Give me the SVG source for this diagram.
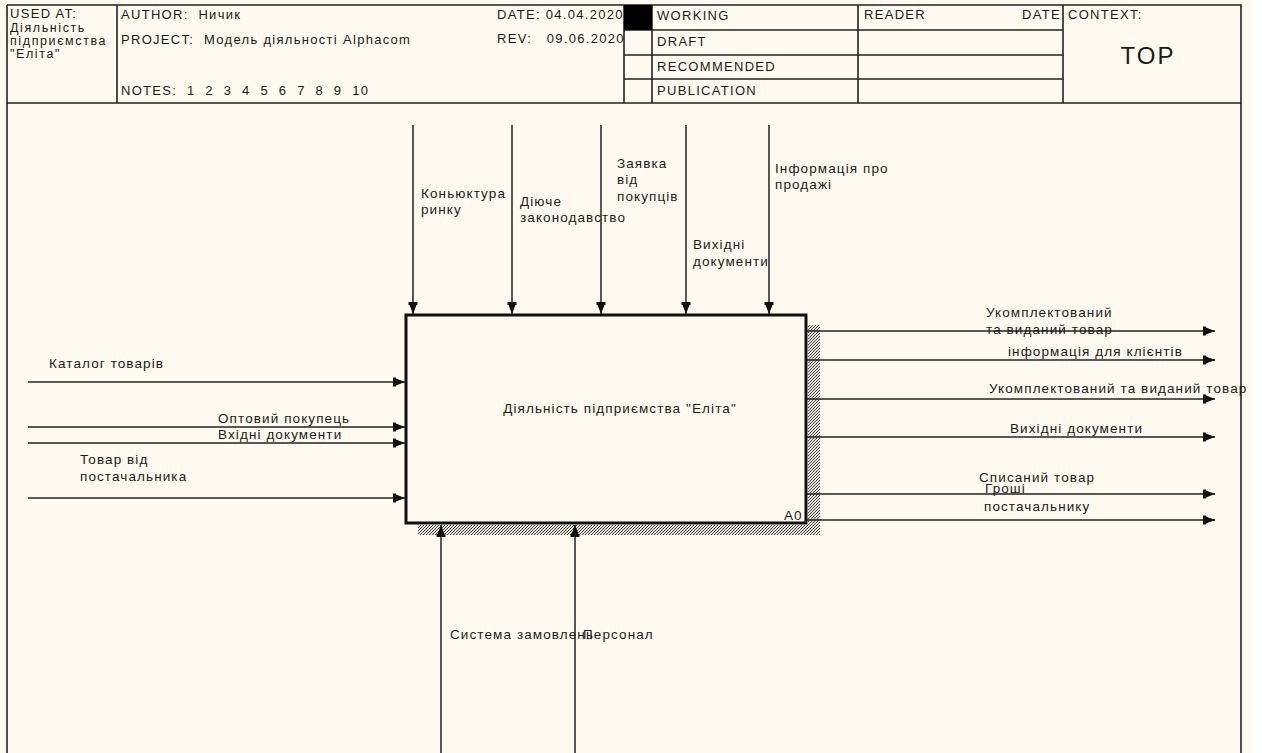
<svg xmlns="http://www.w3.org/2000/svg" width="1262" height="753" viewBox="0 0 1262 753">
<style>
text{font-family:"Liberation Sans",Arial,sans-serif;font-size:13.5px;fill:#1a1a1a;letter-spacing:1.1px;white-space:pre}
.h{font-size:13px;letter-spacing:1.3px}
.s{font-size:12.5px;letter-spacing:1.6px}
.fr{fill:none;stroke:#222;stroke-width:1.6}
.c{fill:none;stroke:#222;stroke-width:1.5}
</style>
<defs>
<marker id="ar" viewBox="0 0 12 10" refX="12" refY="5" markerWidth="12" markerHeight="10" markerUnits="userSpaceOnUse" orient="auto">
<path d="M0,0.5 H3 V1.5 L12,5 L3,8.5 V9.5 H0 Z" fill="#111"/>
</marker>
<pattern id="hatch" width="3" height="3" patternUnits="userSpaceOnUse">
<rect width="3" height="3" fill="#e8e4dc"/>
<rect x="0" y="0" width="1" height="1" fill="#333"/>
<rect x="2" y="1" width="1" height="1" fill="#555"/>
<rect x="1" y="2" width="1" height="1" fill="#444"/>
</pattern>
</defs>
<rect width="1262" height="753" fill="#ffffff"/>
<rect x="0" y="0" width="1252" height="753" fill="#fffaf0"/>

<g id="frame">
<path class="fr" d="M7,5 H1241 V753 M7,5 V753 M7,103 H1241 M117,5 V103 M624,5 V103 M652,5 V103 M858,5 V103 M1063,5 V103 M624,30 H1063 M624,55 H1063 M624,79 H1063"/>
<rect x="624" y="5" width="28" height="25" fill="#000"/>
<text class="h" x="10" y="18">USED AT:</text>
<text class="s" x="10" y="32">Діяльність</text>
<text class="s" x="10" y="45">підприємства</text>
<text class="s" x="10" y="58">"Еліта"</text>
<text class="h" x="121" y="19">AUTHOR:  Ничик</text>
<text class="h" x="121" y="44">PROJECT:  Модель діяльності Alphacom</text>
<text class="h" x="121" y="95">NOTES:  1  2  3  4  5  6  7  8  9  10</text>
<text class="h" x="497" y="19">DATE: 04.04.2020</text>
<text class="h" x="497" y="43">REV:   09.06.2020</text>
<text class="h" x="657" y="20">WORKING</text>
<text class="h" x="657" y="46">DRAFT</text>
<text class="h" x="657" y="71">RECOMMENDED</text>
<text class="h" x="657" y="95">PUBLICATION</text>
<text class="h" x="864" y="19">READER</text>
<text class="h" x="1061" y="19" text-anchor="end">DATE</text>
<text class="h" x="1068" y="19">CONTEXT:</text>
<text x="1148" y="64" text-anchor="middle" style="font-size:24px;letter-spacing:2px">TOP</text>
</g>

<g id="A0">
<rect x="808" y="325" width="12" height="210" fill="url(#hatch)"/>
<rect x="418" y="525" width="402" height="10" fill="url(#hatch)"/>
<rect x="406" y="315" width="400" height="208" fill="#fffaf0" stroke="#111" stroke-width="3"/>
<text x="620" y="413" text-anchor="middle">Діяльність підприємства "Еліта"</text>
<text x="784" y="520">A0</text>
</g>

<g id="connectors">
<path class="c" marker-end="url(#ar)" d="M413,125 V314"/>
<path class="c" marker-end="url(#ar)" d="M512,125 V314"/>
<path class="c" marker-end="url(#ar)" d="M601,125 V314"/>
<path class="c" marker-end="url(#ar)" d="M686,125 V314"/>
<path class="c" marker-end="url(#ar)" d="M769,125 V314"/>
<path class="c" marker-end="url(#ar)" d="M28,382 H405"/>
<path class="c" marker-end="url(#ar)" d="M28,427 H405"/>
<path class="c" marker-end="url(#ar)" d="M28,443 H405"/>
<path class="c" marker-end="url(#ar)" d="M28,498 H405"/>
<path class="c" marker-end="url(#ar)" d="M807,331 H1215"/>
<path class="c" marker-end="url(#ar)" d="M807,360 H1215"/>
<path class="c" marker-end="url(#ar)" d="M807,399 H1215"/>
<path class="c" marker-end="url(#ar)" d="M807,437 H1215"/>
<path class="c" marker-end="url(#ar)" d="M807,494 H1215"/>
<path class="c" marker-end="url(#ar)" d="M807,520 H1215"/>
<path class="c" marker-end="url(#ar)" d="M441,753 V525"/>
<path class="c" marker-end="url(#ar)" d="M575,753 V525"/>
</g>

<g id="labels">
<text x="421" y="198">Коньюктура</text>
<text x="421" y="214">ринку</text>
<text x="520" y="206">Діюче</text>
<text x="520" y="222">законодавство</text>
<text x="617" y="168">Заявка</text>
<text x="617" y="184">від</text>
<text x="617" y="201">покупців</text>
<text x="775" y="173">Інформація про</text>
<text x="775" y="189">продажі</text>
<text x="693" y="249">Вихідні</text>
<text x="693" y="266">документи</text>
<text x="49" y="368">Каталог товарів</text>
<text x="218" y="423">Оптовий покупець</text>
<text x="218" y="439">Вхідні документи</text>
<text x="80" y="464">Товар від</text>
<text x="80" y="481">постачальника</text>
<text x="986" y="317">Укомплектований</text>
<text x="986" y="334">та виданий товар</text>
<text x="1008" y="356">інформація для клієнтів</text>
<text x="989" y="393">Укомплектований та виданий товар</text>
<text x="1010" y="433">Вихідні документи</text>
<text x="979" y="482">Списаний товар</text>
<text x="985" y="493">Гроші</text>
<text x="984" y="511">постачальнику</text>
<text x="450" y="639">Система замовлень</text>
<text x="583" y="639">Персонал</text>
</g>
</svg>
